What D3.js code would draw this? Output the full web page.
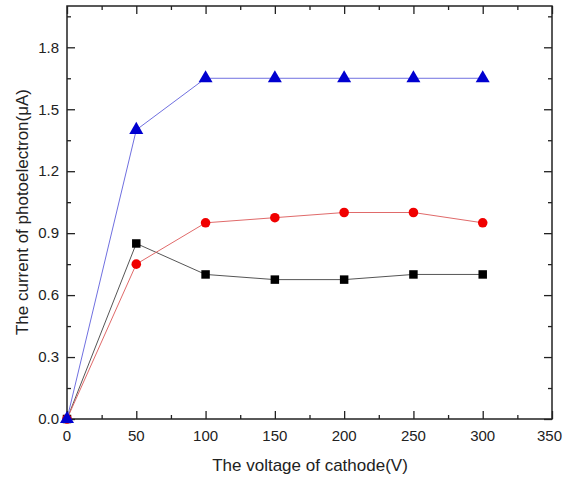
<!DOCTYPE html>
<html>
<head>
<meta charset="utf-8">
<script src="https://cdn.jsdelivr.net/npm/d3@7"></script>
<style>
  body { margin: 0; background: #fff; }
  text { font-family: "Liberation Sans", Arial, sans-serif; }
</style>
</head>
<body>
<script>
var voltage = [0, 50, 100, 150, 200, 250, 300];
var blueVals = [0, 1.40, 1.65, 1.65, 1.65, 1.65, 1.65];
var redVals = [0, 0.75, 0.95, 0.975, 1.0, 1.0, 0.95];
var blackVals = [0, 0.85, 0.70, 0.675, 0.675, 0.70, 0.70];
var xTicks = [0, 50, 100, 150, 200, 250, 300, 350];
var yTicks = [0, 0.3, 0.6, 0.9, 1.2, 1.5, 1.8];

var width = 563, height = 477;
var pLeft = 67, pRight = 552, pTop = 6, pBottom = 419;

var svg = d3.select("body").append("svg")
    .attr("width", width)
    .attr("height", height);

var x = d3.scaleLinear().domain([0, 350]).range([pLeft, pRight]);
var y = d3.scaleLinear().domain([0, 2.0]).range([pBottom, pTop]);

var xMinor = d3.range(0, 351, 25).filter(function(d) { return d % 50 != 0; });
var yMinor = d3.range(0.15, 2.0, 0.3);

function noDomain(g) { g.select(".domain").remove(); }

// axes, ticks point inward
svg.append("g").attr("transform", "translate(0," + pBottom + ")")
  .call(d3.axisBottom(x).tickValues(xTicks).tickSize(-8).tickFormat("")).call(noDomain);
svg.append("g").attr("transform", "translate(0," + pBottom + ")")
  .call(d3.axisBottom(x).tickValues(xMinor).tickSize(-4).tickFormat("")).call(noDomain);
svg.append("g").attr("transform", "translate(0," + pTop + ")")
  .call(d3.axisTop(x).tickValues(xTicks).tickSize(-8).tickFormat("")).call(noDomain);
svg.append("g").attr("transform", "translate(0," + pTop + ")")
  .call(d3.axisTop(x).tickValues(xMinor).tickSize(-4).tickFormat("")).call(noDomain);
svg.append("g").attr("transform", "translate(" + pLeft + ",0)")
  .call(d3.axisLeft(y).tickValues(yTicks).tickSize(-8).tickFormat("")).call(noDomain);
svg.append("g").attr("transform", "translate(" + pLeft + ",0)")
  .call(d3.axisLeft(y).tickValues(yMinor).tickSize(-4).tickFormat("")).call(noDomain);
svg.append("g").attr("transform", "translate(" + pRight + ",0)")
  .call(d3.axisRight(y).tickValues(yTicks).tickSize(-8).tickFormat("")).call(noDomain);
svg.append("g").attr("transform", "translate(" + pRight + ",0)")
  .call(d3.axisRight(y).tickValues(yMinor).tickSize(-4).tickFormat("")).call(noDomain);

svg.selectAll(".tick line").attr("stroke", "#222").attr("stroke-width", 1.3);

svg.append("rect")
  .attr("x", pLeft).attr("y", pTop)
  .attr("width", pRight - pLeft).attr("height", pBottom - pTop)
  .attr("fill", "none").attr("stroke", "#222").attr("stroke-width", 1.5);

// tick labels (last one squeezed against the right edge like the original)
svg.selectAll(".xlab").data(xTicks).enter().append("text")
  .attr("x", function(d) { return d == 350 ? width - 1 : x(d); })
  .attr("y", pBottom + 22)
  .attr("text-anchor", function(d) { return d == 350 ? "end" : "middle"; })
  .attr("font-size", "15px")
  .attr("fill", "#222")
  .text(function(d) { return d; });

svg.selectAll(".ylab").data(yTicks).enter().append("text")
  .attr("x", pLeft - 8)
  .attr("y", function(d) { return y(d); })
  .attr("dy", "0.35em")
  .attr("text-anchor", "end")
  .attr("font-size", "15px")
  .attr("fill", "#222")
  .text(function(d) { return d.toFixed(1); });

svg.append("text")
  .attr("x", 310).attr("y", 471)
  .attr("text-anchor", "middle")
  .attr("font-size", "17px")
  .attr("fill", "#222")
  .text("The voltage of cathode(V)");

svg.append("text")
  .attr("transform", "translate(28,212) rotate(-90)")
  .attr("text-anchor", "middle")
  .attr("font-size", "17px")
  .attr("fill", "#222")
  .text("The current of photoelectron(\u03bcA)");

var line = d3.line()
  .x(function(d, i) { return x(voltage[i]); })
  .y(function(d) { return y(d); });

var series = [
  { vals: blackVals, line: "#555", fill: "#000", sym: d3.symbolSquare, size: 72 },
  { vals: redVals, line: "#e06a6a", fill: "#f00000", sym: d3.symbolCircle, size: 72 },
  { vals: blueVals, line: "#7070e0", fill: "#0000d0", sym: d3.symbolTriangle, size: 85 }
];

series.forEach(function(s) {
  svg.append("path")
    .attr("d", line(s.vals))
    .attr("fill", "none")
    .attr("stroke", s.line)
    .attr("stroke-width", 1);
  svg.selectAll(null).data(s.vals).enter().append("path")
    .attr("d", d3.symbol().type(s.sym).size(s.size))
    .attr("transform", function(d, i) { return "translate(" + x(voltage[i]) + "," + y(d) + ")"; })
    .attr("fill", s.fill);
});
</script>
</body>
</html>
